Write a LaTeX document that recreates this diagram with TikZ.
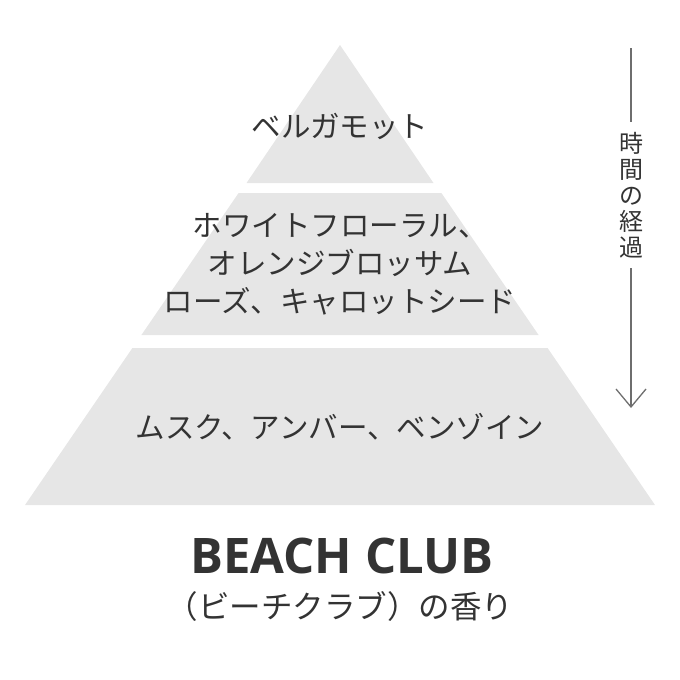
\documentclass[tikz,border=0pt]{standalone}
\usepackage{fontspec}
\newfontfamily\jpfont{Noto Sans CJK JP}
\newfontfamily\titlefont{Open Sans}
\usetikzlibrary{arrows.meta}
\definecolor{tiergray}{HTML}{E6E6E6}
\definecolor{inkgray}{HTML}{333333}
\definecolor{arrowgray}{HTML}{6E6E6E}
\tikzset{
  tier/.style={fill=tiergray,draw=none},
  note/.style={font=\jpfont\fontsize{29.5}{38}\selectfont,text=inkgray,align=center,inner sep=0pt},
}
\begin{document}
\begin{tikzpicture}[x=1pt,y=-1pt]
\useasboundingbox (0,0) rectangle (680,680);
% pyramid tiers
\fill[tier] (340,45) -- (433.5,183) -- (246.5,183) -- cycle;
\fill[tier] (238.6,193) -- (441.4,193) -- (538.6,335) -- (141.4,335) -- cycle;
\fill[tier] (132.4,348) -- (547.6,348) -- (655,505) -- (25,505) -- cycle;
% notes
\node[note] (top) at (340,126) {ベルガモット};
\node[note] (middle) at (340,264) {ホワイトフローラル、\\オレンジブロッサム\\ローズ、キャロットシード};
\node[note] (base) at (340,427) {ムスク、アンバー、ベンゾイン};
% time arrow
\coordinate (tstart) at (631,48);
\coordinate (tend) at (631,408);
\node[font=\jpfont\fontsize{24}{26}\selectfont,text=inkgray,align=center,inner sep=0pt] (time) at (631,195) {時\\間\\の\\経\\過};
\draw[arrowgray,line width=1.3pt] (tstart) -- ([yshift=10pt]time.north);
\draw[arrowgray,line width=1.3pt,-{Straight Barb[length=18pt,width=30pt]}] ([yshift=-10pt]time.south) -- (tend);
% title
\node[font=\titlefont\bfseries\fontsize{49}{52}\selectfont,text=inkgray,inner sep=0pt] (title) at (342,556) {BEACH CLUB};
\node[font=\jpfont\fontsize{31.5}{34}\selectfont,text=inkgray,inner sep=0pt] (subtitle) at (340,607) {（ビーチクラブ）の香り};
\end{tikzpicture}
\end{document}
